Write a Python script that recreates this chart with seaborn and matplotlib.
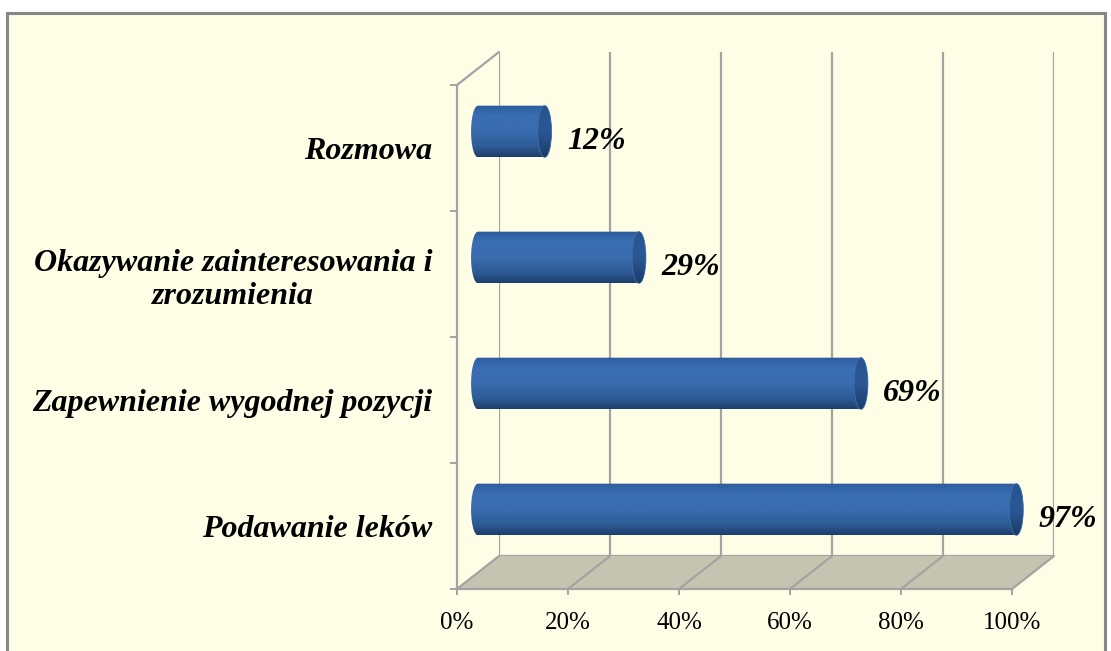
import numpy as np
import pandas as pd
import seaborn as sns
import matplotlib
matplotlib.use('Agg')
import matplotlib.pyplot as plt
from matplotlib.patches import Rectangle, Polygon, Ellipse, ConnectionPatch
from matplotlib.colors import LinearSegmentedColormap

# data
categories = ['Rozmowa',
              'Okazywanie zainteresowania i\nzrozumienia',
              'Zapewnienie wygodnej pozycji',
              'Podawanie leków']
values = [12, 29, 69, 97]
x_ticks = [0, 20, 40, 60, 80, 100]
x_tick_labels = ['0%', '20%', '40%', '60%', '80%', '100%']

W, H = 1111, 651
DX, DY = 42, 33          # depth of the 3d box (pixels)
GRID = '#A3A3A3'
BG = '#FEFEE7'

plt.rcParams['font.family'] = ['Liberation Serif', 'DejaVu Serif']
plt.rcParams['text.color'] = 'black'

fig = plt.figure(figsize=(W / 100, H / 100), dpi=100)
fig.patch.set_facecolor('white')
fig.add_artist(Rectangle((7 / W, -0.05), 1098 / W, (H - 13) / H + 0.05,
                         transform=fig.transFigure, facecolor=BG,
                         edgecolor='#878787', linewidth=2.2, zorder=-5))


def rect(left, top, right, bottom):
    return [left / W, 1 - bottom / H, (right - left) / W, (bottom - top) / H]


L, T, R, B = 457, 85, 1012, 589
ax_back = fig.add_axes(rect(L + DX, T - DY, R + DX, B - DY), zorder=0)
ax_mid = fig.add_axes(rect(L + DX / 2, T - DY / 2, R + DX / 2, B - DY / 2), zorder=2)
ax = fig.add_axes(rect(L, T, R, B), zorder=3)

for a in (ax_back, ax_mid, ax):
    a.set_facecolor('none')
    for s in a.spines.values():
        s.set_visible(False)
    a.set_xlim(0, 100)
    a.set_ylim(3.5, -0.5)

# back wall
for x in x_ticks:
    ax_back.axvline(x, color=GRID, lw=1.6)
ax_back.axhline(3.5, color=GRID, lw=1.6)
ax_back.set_xticks([])
ax_back.set_yticks([])

# floor
inv = fig.transFigure.inverted()
pts = np.vstack([ax.transData.transform([(0, 3.5), (100, 3.5)]),
                 ax_back.transData.transform([(100, 3.5), (0, 3.5)])])
fig.add_artist(Polygon(inv.transform(pts), closed=True, transform=fig.transFigure,
                       facecolor='#C5C4B1', edgecolor='none', zorder=0.5))
for x in x_ticks:
    fig.add_artist(ConnectionPatch((x, 3.5), (x, 3.5), ax.transData, ax_back.transData,
                                   color=GRID, lw=1.6, zorder=1))
fig.add_artist(ConnectionPatch((0, -0.5), (0, -0.5), ax.transData, ax_back.transData,
                               color=GRID, lw=1.6, zorder=1))

# cylinders
df = pd.DataFrame({'kategoria': categories, 'procent': values})
sns.barplot(data=df, x='procent', y='kategoria', orient='h', width=0.41,
            color='#3767AA', ax=ax_mid)

body_cmap = LinearSegmentedColormap.from_list('body', [
    (0.0, '#2D5C9B'), (0.2, '#3A6EB2'), (0.5, '#3A6CAF'),
    (0.8, '#2E5B96'), (1.0, '#1C3E6C')])
cap_cmap = LinearSegmentedColormap.from_list('cap', [
    (0.0, '#28538F'), (0.5, '#2B5895'), (1.0, '#1B3C69')])
grad = np.linspace(0, 1, 200).reshape(-1, 1)

cap = 1.25  # half width of the elliptic end, data units
for patch in list(ax_mid.patches):
    x0, y0 = patch.get_x(), patch.get_y()
    w, h = patch.get_width(), patch.get_height()
    patch.set_visible(False)
    x1, yc = x0 + w, y0 + h / 2
    t1 = np.linspace(np.pi / 2, 3 * np.pi / 2, 40)
    t2 = np.linspace(-np.pi / 2, np.pi / 2, 40)
    outline = np.vstack([
        np.column_stack([x0 + cap * np.cos(t1), yc - h / 2 * np.sin(t1)]),
        np.column_stack([x1 + cap * np.cos(t2), yc - h / 2 * np.sin(t2)])])
    clip = Polygon(outline, closed=True, transform=ax_mid.transData)
    im = ax_mid.imshow(grad, cmap=body_cmap, aspect='auto', origin='upper',
                       extent=(x0 - cap, x1 + cap, y0 + h, y0), zorder=3)
    im.set_clip_box(fig.bbox)
    im.set_clip_path(clip)
    ell = Ellipse((x1, yc), 2 * cap, h, transform=ax_mid.transData)
    im2 = ax_mid.imshow(grad, cmap=cap_cmap, aspect='auto', origin='upper',
                        extent=(x1 - cap, x1 + cap, y0 + h, y0), zorder=4)
    im2.set_clip_box(fig.bbox)
    im2.set_clip_path(ell)
    ax_mid.add_patch(Ellipse((x1, yc), 2 * cap, h, facecolor='none',
                             edgecolor='#3F6FAE', lw=0.6, zorder=5))

for i, v in enumerate(values):
    ax_mid.annotate(f'{v}%', xy=(v + cap, i), xytext=(11, -7),
                    textcoords='offset points', ha='left', va='center',
                    fontsize=23, fontweight='bold', fontstyle='italic')

ax_mid.set_xlim(0, 100)
ax_mid.set_ylim(3.5, -0.5)
ax_mid.axis('off')

# front edges, ticks and labels
ax.spines['left'].set_visible(True)
ax.spines['bottom'].set_visible(True)
for s in ('left', 'bottom'):
    ax.spines[s].set_color(GRID)
    ax.spines[s].set_linewidth(1.6)

ax.set_xticks(x_ticks, x_tick_labels)
ax.tick_params(axis='x', length=4.5, width=1.4, color=GRID, pad=12, labelsize=18)
ax.set_yticks(range(len(categories)))
ax.set_yticklabels(categories, fontsize=23, fontweight='bold',
                   fontstyle='italic', multialignment='center')
ax.set_yticks([-0.5, 0.5, 1.5, 2.5, 3.5], minor=True)
ax.tick_params(axis='y', which='major', length=0, pad=18)
ax.tick_params(axis='y', which='minor', length=5, width=1.4, color=GRID)
ax.set_xlabel('')
ax.set_ylabel('')

plt.savefig('out.png', dpi=100, facecolor=fig.get_facecolor())
